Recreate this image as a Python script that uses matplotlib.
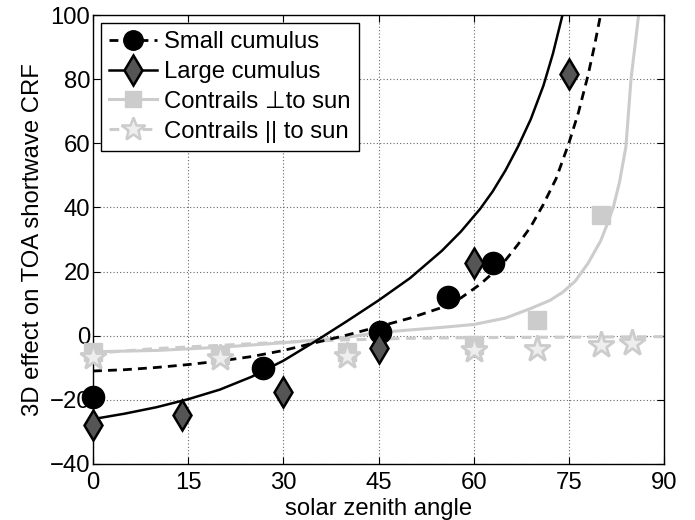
import matplotlib
matplotlib.use("Agg")
import matplotlib.pyplot as plt
from matplotlib.lines import Line2D

plt.rcParams['font.family'] = ['Liberation Sans', 'DejaVu Sans']
plt.rcParams['axes.unicode_minus'] = True

# ---- data ----
small_x = [0, 26.8, 45.2, 56.0, 63.1]
small_y = [-19, -10.2, 1.2, 12.2, 22.8]

large_x = [0, 14, 30, 45, 60, 75]
large_y = [-27.8, -24.7, -17.5, -3.9, 22.8, 81.6]

perp_x = [0, 20, 40, 60, 70, 80]
perp_y = [-5, -6, -5, -3, 4.9, 37.6]

par_x = [0, 20, 40, 60, 70, 80, 85]
par_y = [-6.5, -7, -6.2, -4.5, -4.2, -2.9, -2.4]

# fitted curves
fit_large_x = [0, 5, 10, 15, 20, 25, 30, 35, 40, 45, 50, 55, 58, 61, 63, 65, 67, 69, 71, 72.5, 74]
fit_large_y = [-26, -24.3, -22.3, -19.8, -16.8, -12.8, -7.8, -1.8, 4.5, 11, 18, 26.5, 32.5, 39.5, 45, 51.5, 59, 67.5, 78, 88, 100]

fit_small_x = [0, 5, 10, 15, 20, 25, 30, 35, 40, 45, 50, 55, 58, 61, 63, 65, 67, 69, 71, 73, 75, 76.5, 78, 79, 80]
fit_small_y = [-11, -10.6, -9.9, -9, -7.9, -6.5, -4.6, -2.2, 0.2, 2.8, 5.5, 8.8, 11.8, 16, 19.5, 23.5, 28.5, 34, 41, 49, 60, 69.5, 81, 90, 100]

fit_perp_x = [0, 10, 20, 30, 40, 45, 50, 55, 60, 65, 69, 72, 74, 76, 78, 80, 81, 82, 83, 84, 84.8, 86]
fit_perp_y = [-5, -4.6, -3.6, -2.2, -0.5, 1, 1.8, 2.6, 3.5, 5.5, 8.5, 11, 13.5, 17, 22.5, 29.5, 34.5, 40, 48, 59, 80, 100]

fit_par_x = [0, 10, 20, 30, 40, 50, 60, 70, 80, 90]
fit_par_y = [-5.5, -4, -3, -2, -1.3, -0.8, -0.6, -0.5, -0.4, -0.3]

labels = ['Small cumulus', 'Large cumulus', 'Contrails \u22a5to sun', 'Contrails || to sun']

xticks = [0, 15, 30, 45, 60, 75, 90]
yticks = [-40, -20, 0, 20, 40, 60, 80, 100]

# ---- styles ----
LG = '#cccccc'
DG = '#555555'
FS = 17.2
dash = (0, (3.2, 2.2))

fig = plt.figure(figsize=(6.95, 5.2), dpi=100)
ax = fig.add_axes([93/695, 1-464/520, 571/695, 449/520])

ax.plot(fit_par_x, fit_par_y, color=LG, lw=2.2, linestyle=dash, zorder=2)
ax.plot(fit_perp_x, fit_perp_y, color=LG, lw=2.2, zorder=2)
ax.plot(fit_small_x, fit_small_y, color='black', lw=2.0, linestyle=dash, zorder=3)
ax.plot(fit_large_x, fit_large_y, color='black', lw=1.8, zorder=3)

ax.plot(perp_x, perp_y, linestyle='none', marker='s', ms=13.5, mfc=LG, mec=LG, zorder=4, clip_on=False)
ax.plot(par_x, par_y, linestyle='none', marker='*', ms=20, mfc='#eeeeee', mec=LG, mew=2.0, zorder=5, clip_on=False)
ax.plot(small_x, small_y, linestyle='none', marker='o', ms=16, mfc='black', mec='black', zorder=6, clip_on=False)
ax.plot(large_x, large_y, linestyle='none', marker='d', ms=15, mfc=DG, mec='black', mew=1.8, zorder=6, clip_on=False)

handles = [
    Line2D([], [], color='black', lw=2.0, linestyle=dash, marker='o', ms=14, mfc='black', mec='black'),
    Line2D([], [], color='black', lw=1.8, marker='d', ms=15, mfc=DG, mec='black', mew=1.8),
    Line2D([], [], color=LG, lw=2.2, marker='s', ms=12, mfc=LG, mec=LG),
    Line2D([], [], color=LG, lw=2.2, linestyle=dash, marker='*', ms=18, mfc='#eeeeee', mec=LG, mew=1.8),
]
leg = ax.legend(handles, labels, loc='upper left', bbox_to_anchor=(0.0135, 0.983),
                borderaxespad=0, fontsize=FS, fancybox=False, framealpha=1,
                edgecolor='black', handlelength=2.0, handletextpad=0.3,
                labelspacing=0.33, borderpad=0.35)
leg.get_frame().set_linewidth(1.0)
leg.set_zorder(10)

ax.set_xlim(0, 90)
ax.set_ylim(-40, 100)
ax.set_xticks(xticks)
ax.set_yticks(yticks)
ax.tick_params(direction='in', length=5, width=0.8, top=True, right=True, labelsize=FS)
ax.tick_params(axis='x', pad=6)
ax.tick_params(axis='y', pad=2)
ax.grid(True, linestyle=(0, (1, 2)), color='0.4', lw=0.8)
ax.set_axisbelow(True)
for s in ax.spines.values():
    s.set_linewidth(1.0)

ax.set_xlabel('solar zenith angle', fontsize=FS, labelpad=3)
ax.set_ylabel('3D effect on TOA shortwave CRF', fontsize=FS, labelpad=4)

fig.savefig('out.png', dpi=100)
